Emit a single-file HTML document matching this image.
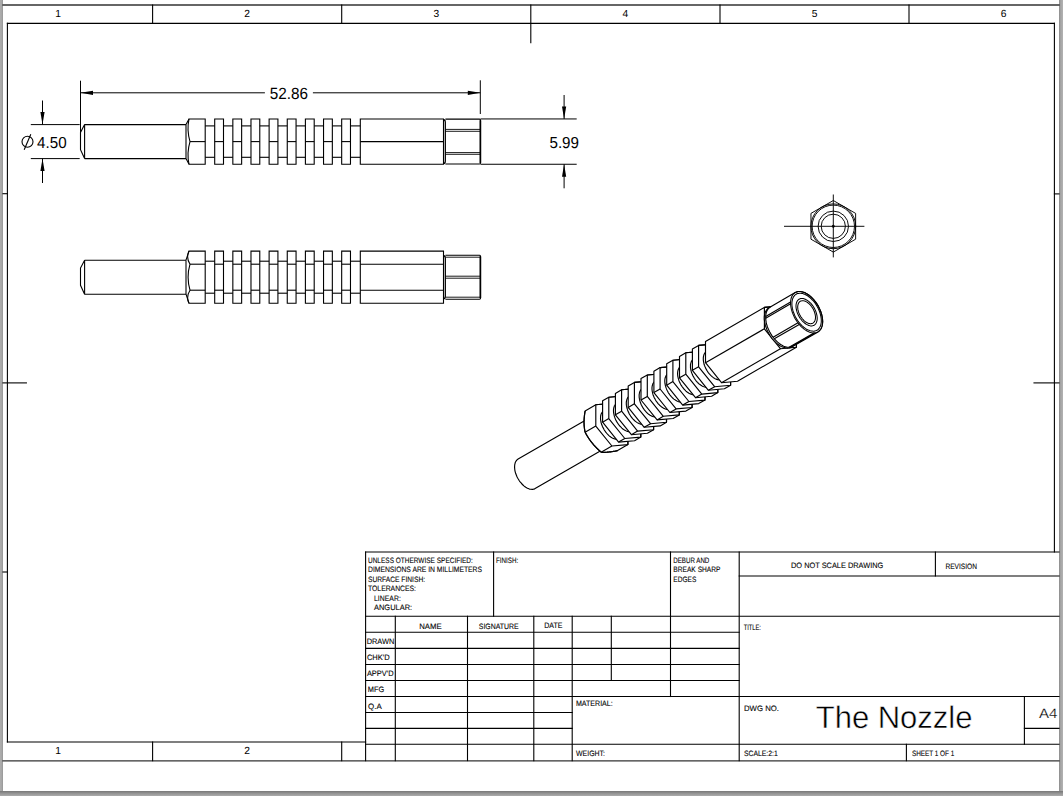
<!DOCTYPE html>
<html><head><meta charset="utf-8"><style>
html,body{margin:0;padding:0;background:#fff;width:1063px;height:796px;overflow:hidden}
svg{display:block}
</style></head><body>
<svg width="1063" height="796" viewBox="0 0 1063 796">
<rect x="0" y="0" width="1063" height="796" fill="#fff"/>
<defs>
<linearGradient id="gl" x1="0" y1="0" x2="1" y2="0"><stop offset="0" stop-color="#aeaeae"/><stop offset="0.6" stop-color="#a6a6a6"/><stop offset="1" stop-color="#959595"/></linearGradient>
<linearGradient id="gr" x1="0" y1="0" x2="1" y2="0"><stop offset="0" stop-color="#8a8a8a"/><stop offset="0.4" stop-color="#a4a4a4"/><stop offset="1" stop-color="#b2b2b2"/></linearGradient>
<linearGradient id="gb" x1="0" y1="0" x2="0" y2="1"><stop offset="0" stop-color="#777"/><stop offset="0.5" stop-color="#959595"/><stop offset="1" stop-color="#ababab"/></linearGradient>
</defs>
<rect x="0" y="0" width="3" height="796" fill="url(#gl)"/>
<rect x="1059" y="0" width="4" height="796" fill="url(#gr)"/>
<rect x="0" y="791" width="1063" height="5" fill="url(#gb)"/>
<g stroke="#000" stroke-width="1.1" fill="none" stroke-linecap="square">
<line x1="3" y1="5" x2="1059" y2="5" stroke-width="1.3" stroke="#333"/>
<line x1="3" y1="760.8" x2="1059" y2="760.8" stroke-width="1.3" stroke="#333"/>
<line x1="7.4" y1="23.4" x2="1054.4" y2="23.4"/>
<line x1="7.4" y1="23.4" x2="7.4" y2="742"/>
<line x1="1054.4" y1="23.4" x2="1054.4" y2="552"/>
<line x1="7.4" y1="742" x2="365.6" y2="742"/>
<line x1="152.6" y1="5" x2="152.6" y2="23.4"/>
<line x1="341.7" y1="5" x2="341.7" y2="23.4"/>
<line x1="720" y1="5" x2="720" y2="23.4"/>
<line x1="909" y1="5" x2="909" y2="23.4"/>
<line x1="530.8" y1="5" x2="530.8" y2="42.8"/>
<line x1="152.6" y1="742" x2="152.6" y2="760.6"/>
<line x1="341.7" y1="742" x2="341.7" y2="760.6"/>
<line x1="3" y1="193.7" x2="7.4" y2="193.7"/>
<line x1="3" y1="382.9" x2="26.4" y2="382.9"/>
<line x1="3" y1="572" x2="7.4" y2="572"/>
<line x1="1054.4" y1="193.9" x2="1059" y2="193.9"/>
<line x1="1034" y1="382.9" x2="1059" y2="382.9"/>
<line x1="365.6" y1="552" x2="1059" y2="552"/>
<line x1="739.2" y1="576" x2="1059" y2="576"/>
<line x1="365.6" y1="616.3" x2="1059" y2="616.3"/>
<line x1="365.6" y1="632.3" x2="739.2" y2="632.3"/>
<line x1="365.6" y1="648.4" x2="739.2" y2="648.4"/>
<line x1="365.6" y1="664.5" x2="739.2" y2="664.5"/>
<line x1="365.6" y1="680.5" x2="739.2" y2="680.5"/>
<line x1="365.6" y1="696.5" x2="1059" y2="696.5"/>
<line x1="365.6" y1="712.5" x2="572.2" y2="712.5"/>
<line x1="365.6" y1="728.4" x2="572.2" y2="728.4"/>
<line x1="1024.4" y1="728.4" x2="1059" y2="728.4"/>
<line x1="365.6" y1="744.3" x2="1059" y2="744.3"/>
<line x1="365.6" y1="552" x2="365.6" y2="760.6"/>
<line x1="493.6" y1="552" x2="493.6" y2="616.3"/>
<line x1="670.5" y1="552" x2="670.5" y2="696.5"/>
<line x1="739.2" y1="552" x2="739.2" y2="760.6"/>
<line x1="935.4" y1="552" x2="935.4" y2="576"/>
<line x1="395.3" y1="616.3" x2="395.3" y2="760.6"/>
<line x1="467.5" y1="616.3" x2="467.5" y2="760.6"/>
<line x1="533.8" y1="616.3" x2="533.8" y2="760.6"/>
<line x1="572.2" y1="616.3" x2="572.2" y2="760.6"/>
<line x1="611.3" y1="616.3" x2="611.3" y2="680.5"/>
<line x1="1024.4" y1="696.5" x2="1024.4" y2="744.3"/>
<line x1="906.4" y1="744.3" x2="906.4" y2="760.6"/>
</g>
<g stroke="#000" stroke-width="1.1" fill="none" stroke-linejoin="miter">
<line x1="84.6" y1="124.6" x2="186" y2="124.6"/>
<line x1="84.6" y1="158.6" x2="186" y2="158.6"/>
<line x1="84.6" y1="124.6" x2="84.6" y2="158.6"/>
<path d="M84.6,124.6 L80.5,132.5 L80.5,149.7 L84.6,158.6" fill="none"/>
<line x1="186" y1="124.6" x2="186" y2="158.6"/>
<path d="M186,124.6 L189,118.94999999999999 L205.2,118.94999999999999 L205.2,164.25 L189,164.25 L186,158.6" fill="none"/>
<path d="M189,118.94999999999999 Q186.6,130.27499999999998 190,141.6 Q186.6,152.925 189,164.25" fill="none"/>
<line x1="190" y1="141.6" x2="205.2" y2="141.6"/>
<line x1="205.2" y1="125.89999999999999" x2="214.7" y2="125.89999999999999"/>
<line x1="205.2" y1="157.29999999999998" x2="214.7" y2="157.29999999999998"/>
<path d="M214.7,118.94999999999999 H223.5 V164.25 H214.7Z" fill="none"/>
<line x1="214.7" y1="141.6" x2="223.5" y2="141.6"/>
<line x1="223.5" y1="125.89999999999999" x2="232.83999999999997" y2="125.89999999999999"/>
<line x1="223.5" y1="157.29999999999998" x2="232.83999999999997" y2="157.29999999999998"/>
<path d="M232.83999999999997,118.94999999999999 H241.64 V164.25 H232.83999999999997Z" fill="none"/>
<line x1="232.83999999999997" y1="141.6" x2="241.64" y2="141.6"/>
<line x1="241.64" y1="125.89999999999999" x2="250.98" y2="125.89999999999999"/>
<line x1="241.64" y1="157.29999999999998" x2="250.98" y2="157.29999999999998"/>
<path d="M250.98,118.94999999999999 H259.78 V164.25 H250.98Z" fill="none"/>
<line x1="250.98" y1="141.6" x2="259.78" y2="141.6"/>
<line x1="259.78" y1="125.89999999999999" x2="269.12" y2="125.89999999999999"/>
<line x1="259.78" y1="157.29999999999998" x2="269.12" y2="157.29999999999998"/>
<path d="M269.12,118.94999999999999 H277.92 V164.25 H269.12Z" fill="none"/>
<line x1="269.12" y1="141.6" x2="277.92" y2="141.6"/>
<line x1="277.92" y1="125.89999999999999" x2="287.26" y2="125.89999999999999"/>
<line x1="277.92" y1="157.29999999999998" x2="287.26" y2="157.29999999999998"/>
<path d="M287.26,118.94999999999999 H296.06 V164.25 H287.26Z" fill="none"/>
<line x1="287.26" y1="141.6" x2="296.06" y2="141.6"/>
<line x1="296.06" y1="125.89999999999999" x2="305.4" y2="125.89999999999999"/>
<line x1="296.06" y1="157.29999999999998" x2="305.4" y2="157.29999999999998"/>
<path d="M305.4,118.94999999999999 H314.2 V164.25 H305.4Z" fill="none"/>
<line x1="305.4" y1="141.6" x2="314.2" y2="141.6"/>
<line x1="314.2" y1="125.89999999999999" x2="323.53999999999996" y2="125.89999999999999"/>
<line x1="314.2" y1="157.29999999999998" x2="323.53999999999996" y2="157.29999999999998"/>
<path d="M323.53999999999996,118.94999999999999 H332.34 V164.25 H323.53999999999996Z" fill="none"/>
<line x1="323.53999999999996" y1="141.6" x2="332.34" y2="141.6"/>
<line x1="332.34" y1="125.89999999999999" x2="341.68" y2="125.89999999999999"/>
<line x1="332.34" y1="157.29999999999998" x2="341.68" y2="157.29999999999998"/>
<path d="M341.68,118.94999999999999 H350.48 V164.25 H341.68Z" fill="none"/>
<line x1="341.68" y1="141.6" x2="350.48" y2="141.6"/>
<line x1="350.48" y1="125.89999999999999" x2="360.3" y2="125.89999999999999"/>
<line x1="350.48" y1="157.29999999999998" x2="360.3" y2="157.29999999999998"/>
<path d="M360.3,118.94999999999999 H443.5 V164.25 H360.3Z" fill="none"/>
<line x1="360.3" y1="141.6" x2="443.5" y2="141.6"/>
<path d="M444.5,119.64999999999999 Q443.6,120.14999999999999 443.6,122.14999999999999 V161.04999999999998 Q443.6,163.04999999999998 444.5,163.54999999999998 Q445.4,163.04999999999998 445.4,161.04999999999998 V122.14999999999999 Q445.4,120.14999999999999 444.5,119.64999999999999Z" fill="none"/>
<path d="M445.4,119.14999999999999 H479.5 Q480.6,119.14999999999999 480.6,120.64999999999999 V162.54999999999998 Q480.6,164.04999999999998 479.5,164.04999999999998 H445.4" fill="none"/>
<line x1="480.3" y1="120.14999999999999" x2="480.3" y2="163.04999999999998" stroke-width="1.6"/>
<line x1="445.4" y1="129.4" x2="480.3" y2="129.4" stroke-width="0.9"/>
<line x1="445.4" y1="131.29999999999998" x2="480.3" y2="131.29999999999998" stroke-width="0.9"/>
<line x1="445.4" y1="152.6" x2="480.3" y2="152.6" stroke-width="0.9"/>
<line x1="445.4" y1="154.29999999999998" x2="480.3" y2="154.29999999999998" stroke-width="0.9"/>
<line x1="84.6" y1="260.2" x2="186" y2="260.2"/>
<line x1="84.6" y1="294.2" x2="186" y2="294.2"/>
<line x1="84.6" y1="260.2" x2="84.6" y2="294.2"/>
<path d="M84.6,260.2 L80.5,268.09999999999997 L80.5,285.3 L84.6,294.2" fill="none"/>
<line x1="186" y1="260.2" x2="186" y2="294.2"/>
<path d="M186,260.2 L189,251.1 L205.2,251.1 L205.2,303.3 L189,303.3 L186,294.2" fill="none"/>
<path d="M189,251.1 Q185.8,257.65 190,264.2 Q186.2,277.2 190,290.2 Q185.8,296.75 189,303.3" fill="none"/>
<line x1="190" y1="264.2" x2="205.2" y2="264.2"/>
<line x1="190" y1="290.2" x2="205.2" y2="290.2"/>
<line x1="205.2" y1="261.2" x2="214.7" y2="261.2"/>
<line x1="205.2" y1="293.2" x2="214.7" y2="293.2"/>
<path d="M214.7,251.1 H223.5 V303.3 H214.7Z" fill="none"/>
<line x1="214.7" y1="264.2" x2="223.5" y2="264.2"/>
<line x1="214.7" y1="290.2" x2="223.5" y2="290.2"/>
<line x1="223.5" y1="261.2" x2="232.83999999999997" y2="261.2"/>
<line x1="223.5" y1="293.2" x2="232.83999999999997" y2="293.2"/>
<path d="M232.83999999999997,251.1 H241.64 V303.3 H232.83999999999997Z" fill="none"/>
<line x1="232.83999999999997" y1="264.2" x2="241.64" y2="264.2"/>
<line x1="232.83999999999997" y1="290.2" x2="241.64" y2="290.2"/>
<line x1="241.64" y1="261.2" x2="250.98" y2="261.2"/>
<line x1="241.64" y1="293.2" x2="250.98" y2="293.2"/>
<path d="M250.98,251.1 H259.78 V303.3 H250.98Z" fill="none"/>
<line x1="250.98" y1="264.2" x2="259.78" y2="264.2"/>
<line x1="250.98" y1="290.2" x2="259.78" y2="290.2"/>
<line x1="259.78" y1="261.2" x2="269.12" y2="261.2"/>
<line x1="259.78" y1="293.2" x2="269.12" y2="293.2"/>
<path d="M269.12,251.1 H277.92 V303.3 H269.12Z" fill="none"/>
<line x1="269.12" y1="264.2" x2="277.92" y2="264.2"/>
<line x1="269.12" y1="290.2" x2="277.92" y2="290.2"/>
<line x1="277.92" y1="261.2" x2="287.26" y2="261.2"/>
<line x1="277.92" y1="293.2" x2="287.26" y2="293.2"/>
<path d="M287.26,251.1 H296.06 V303.3 H287.26Z" fill="none"/>
<line x1="287.26" y1="264.2" x2="296.06" y2="264.2"/>
<line x1="287.26" y1="290.2" x2="296.06" y2="290.2"/>
<line x1="296.06" y1="261.2" x2="305.4" y2="261.2"/>
<line x1="296.06" y1="293.2" x2="305.4" y2="293.2"/>
<path d="M305.4,251.1 H314.2 V303.3 H305.4Z" fill="none"/>
<line x1="305.4" y1="264.2" x2="314.2" y2="264.2"/>
<line x1="305.4" y1="290.2" x2="314.2" y2="290.2"/>
<line x1="314.2" y1="261.2" x2="323.53999999999996" y2="261.2"/>
<line x1="314.2" y1="293.2" x2="323.53999999999996" y2="293.2"/>
<path d="M323.53999999999996,251.1 H332.34 V303.3 H323.53999999999996Z" fill="none"/>
<line x1="323.53999999999996" y1="264.2" x2="332.34" y2="264.2"/>
<line x1="323.53999999999996" y1="290.2" x2="332.34" y2="290.2"/>
<line x1="332.34" y1="261.2" x2="341.68" y2="261.2"/>
<line x1="332.34" y1="293.2" x2="341.68" y2="293.2"/>
<path d="M341.68,251.1 H350.48 V303.3 H341.68Z" fill="none"/>
<line x1="341.68" y1="264.2" x2="350.48" y2="264.2"/>
<line x1="341.68" y1="290.2" x2="350.48" y2="290.2"/>
<line x1="350.48" y1="261.2" x2="360.3" y2="261.2"/>
<line x1="350.48" y1="293.2" x2="360.3" y2="293.2"/>
<path d="M360.3,251.1 H443.5 V303.3 H360.3Z" fill="none"/>
<line x1="360.3" y1="264.2" x2="443.5" y2="264.2"/>
<line x1="360.3" y1="290.2" x2="443.5" y2="290.2"/>
<path d="M444.5,255.7 Q443.6,256.2 443.6,258.2 V296.2 Q443.6,298.2 444.5,298.7 Q445.4,298.2 445.4,296.2 V258.2 Q445.4,256.2 444.5,255.7Z" fill="none"/>
<path d="M445.4,255.2 H479.5 Q480.6,255.2 480.6,256.7 V297.7 Q480.6,299.2 479.5,299.2 H445.4" fill="none"/>
<line x1="480.3" y1="256.2" x2="480.3" y2="298.2" stroke-width="1.6"/>
<line x1="445.4" y1="257.2" x2="480.3" y2="257.2" stroke-width="0.9"/>
<line x1="445.4" y1="276.2" x2="480.3" y2="276.2" stroke-width="0.9"/>
<line x1="445.4" y1="278.2" x2="480.3" y2="278.2" stroke-width="0.9"/>
<line x1="445.4" y1="297.2" x2="480.3" y2="297.2" stroke-width="0.9"/>
</g>
<g stroke="#000" stroke-width="1.15" stroke-linejoin="round">
<path d="M514.6,466.9 L514.6,466.0 L514.7,465.2 L514.8,464.4 L515.0,463.6 L515.2,462.8 L515.5,462.1 L515.8,461.5 L516.2,460.9 L516.6,460.4 L517.0,459.9 L517.5,459.5 L518.1,459.1 L589.8,417.7 L590.4,417.5 L591.0,417.2 L591.6,417.1 L592.3,417.0 L593.0,417.0 L593.7,417.0 L594.4,417.1 L595.2,417.3 L595.9,417.5 L596.7,417.8 L597.5,418.2 L598.3,418.6 L599.1,419.1 L599.9,419.6 L600.6,420.2 L601.4,420.9 L602.1,421.6 L602.9,422.3 L603.6,423.1 L604.3,423.9 L605.0,424.8 L605.6,425.7 L606.2,426.6 L606.8,427.6 L607.3,428.5 L607.8,429.5 L608.3,430.5 L608.7,431.5 L609.1,432.6 L609.4,433.6 L609.7,434.6 L609.9,435.6 L610.1,436.6 L610.2,437.5 L610.3,438.5 L610.3,439.4 L610.3,440.3 L610.2,441.2 L610.1,442.0 L609.9,442.8 L609.7,443.5 L609.4,444.2 L609.1,444.8 L608.7,445.4 L608.3,446.0 L607.8,446.4 L607.3,446.8 L606.8,447.2 L535.1,488.6 L534.5,488.9 L533.9,489.1 L533.3,489.3 L532.6,489.4 L531.9,489.4 L531.2,489.3 L530.4,489.2 L529.7,489.1 L528.9,488.8 L528.2,488.5 L527.4,488.2 L526.6,487.7 L525.8,487.3 L525.0,486.7 L524.2,486.1 L523.5,485.5 L522.7,484.8 L522.0,484.0 L521.3,483.2 L520.6,482.4 L519.9,481.6 L519.3,480.7 L518.7,479.7 L518.1,478.8 L517.5,477.8 L517.0,476.8 L516.6,475.8 L516.2,474.8 L515.8,473.8 L515.5,472.8 L515.2,471.8 L515.0,470.8 L514.8,469.8 L514.7,468.8 L514.6,467.8Z" fill="#fff"/>
<path d="M584.0,422.0 L584.0,421.9 L584.0,421.6 L584.0,421.1 L584.1,420.9 L584.1,420.6 L584.1,420.2 L584.1,420.1 L584.1,419.9 L584.1,419.7 L584.1,419.2 L584.1,418.9 L584.2,418.4 L584.2,418.2 L584.2,418.0 L584.2,417.6 L584.3,417.3 L584.3,417.1 L584.3,416.5 L584.4,416.2 L584.4,415.8 L584.4,415.6 L584.5,415.4 L584.5,415.0 L584.5,414.8 L584.6,414.6 L584.6,414.2 L584.6,414.0 L584.7,413.8 L584.7,413.4 L584.8,412.9 L584.8,412.7 L584.9,412.5 L584.9,412.3 L584.9,412.1 L585.0,411.6 L585.1,411.4 L585.1,410.9 L595.8,404.7 L611.9,403.3 L627.9,423.2 L627.9,444.6 L617.2,450.7 L617.0,450.8 L616.8,450.8 L616.4,450.9 L616.0,451.0 L615.4,451.1 L615.3,451.1 L614.9,451.2 L614.7,451.2 L614.4,451.2 L613.9,451.3 L613.6,451.4 L613.4,451.4 L613.1,451.5 L612.6,451.5 L612.5,451.5 L612.0,451.6 L611.6,451.7 L611.5,451.7 L611.2,451.7 L610.9,451.8 L610.8,451.8 L610.6,451.8 L610.2,451.9 L609.9,451.9 L609.7,451.9 L609.6,451.9 L609.0,452.0 L608.8,452.0 L608.5,452.0 L608.3,452.1 L608.2,452.1 L607.9,452.1 L607.6,452.1 L607.3,452.1 L607.1,452.2 L606.9,452.2 L606.8,452.2 L606.5,452.2 L606.4,452.2 L606.0,452.2 L605.8,452.2 L605.7,452.2 L605.5,452.3 L605.4,452.3 L605.2,452.3 L605.0,452.3 L604.8,452.3 L604.6,452.3 L604.4,452.3 L604.3,452.3 L603.8,452.3 L603.5,452.3 L603.4,452.3 L603.2,452.3 L602.8,452.3 L602.6,452.3 L602.2,452.2 L602.1,452.2 L602.0,452.2 L601.7,452.2 L601.6,452.2 L601.5,452.2 L601.3,452.2 L601.1,452.2 L600.7,451.8 L600.6,451.6 L600.2,451.3 L600.0,451.1 L599.6,450.8 L599.4,450.6 L599.2,450.5 L599.1,450.3 L598.9,450.1 L598.7,450.0 L598.4,449.7 L598.2,449.5 L597.9,449.2 L597.7,449.0 L597.5,448.9 L597.4,448.7 L597.2,448.5 L597.1,448.4 L596.8,448.1 L596.5,447.8 L596.3,447.6 L596.2,447.5 L596.0,447.3 L595.9,447.2 L595.7,447.0 L595.6,446.9 L595.3,446.6 L595.2,446.4 L595.0,446.3 L594.9,446.1 L594.7,446.0 L594.6,445.8 L594.3,445.5 L594.2,445.4 L594.1,445.2 L593.9,445.1 L593.8,444.9 L593.7,444.8 L593.4,444.5 L593.2,444.2 L593.0,444.0 L592.7,443.6 L592.4,443.3 L592.3,443.1 L592.2,443.0 L591.9,442.7 L591.8,442.5 L591.7,442.4 L591.4,442.1 L591.3,441.9 L591.2,441.8 L591.0,441.5 L590.7,441.2 L590.6,441.0 L590.4,440.7 L590.3,440.5 L590.2,440.4 L589.9,440.1 L589.7,439.7 L589.6,439.6 L589.4,439.2 L589.3,439.1 L589.1,438.9 L589.0,438.8 L588.9,438.6 L588.8,438.4 L588.7,438.2 L588.6,438.1 L588.5,437.9 L588.4,437.7 L588.2,437.6 L588.1,437.4 L587.9,437.0 L587.8,436.8 L587.6,436.5 L587.5,436.3 L587.3,436.1 L587.2,435.9 L587.1,435.7 L587.0,435.6 L586.9,435.4 L586.8,435.2 L586.7,435.0 L586.5,434.8 L586.4,434.6 L586.2,434.2 L586.1,434.0 L586.0,433.8 L585.8,433.6 L585.7,433.3 L585.5,432.9 L585.3,432.5 L585.1,432.2 L585.1,431.9 L585.0,431.7 L584.9,431.3 L584.9,431.1 L584.9,430.9 L584.8,430.8 L584.8,430.6 L584.8,430.4 L584.7,430.2 L584.7,430.1 L584.7,429.9 L584.6,429.7 L584.6,429.5 L584.6,429.2 L584.5,429.0 L584.5,428.8 L584.5,428.7 L584.5,428.5 L584.4,428.3 L584.4,428.2 L584.4,427.8 L584.4,427.7 L584.3,427.5 L584.3,427.0 L584.3,426.9 L584.3,426.7 L584.2,426.5 L584.2,426.2 L584.2,426.0 L584.2,425.9 L584.1,425.4 L584.1,425.1 L584.1,424.8 L584.1,424.6 L584.1,424.4 L584.1,424.3 L584.1,424.1 L584.1,424.0 L584.1,423.8 L584.1,423.6 L584.1,423.5 L584.0,423.3 L584.0,423.2 L584.0,423.0 L584.0,422.8 L584.0,422.5 L584.0,422.4Z" fill="#fff"/>
<path d="M595.8,426.1 L611.9,446.0 L627.9,444.6 L627.9,423.2 L611.9,403.3 L595.8,404.7Z" fill="none"/>
<path d="M585.1,410.9 L585.1,411.0 L585.1,411.1 L585.1,411.2 L585.1,411.4 L585.0,411.5 L585.0,411.6 L585.0,411.7 L585.0,411.8 L585.0,411.9 L584.9,412.1 L584.9,412.2 L584.9,412.3 L584.9,412.4 L584.9,412.5 L584.9,412.6 L584.8,412.7 L584.8,412.8 L584.8,412.9 L584.8,413.0 L584.8,413.2 L584.8,413.3 L584.7,413.4 L584.7,413.5 L584.7,413.6 L584.7,413.7 L584.7,413.8 L584.7,413.9 L584.6,414.0 L584.6,414.1 L584.6,414.2 L584.6,414.3 L584.6,414.4 L584.6,414.5 L584.6,414.6 L584.6,414.7 L584.5,414.8 L584.5,414.9 L584.5,415.0 L584.5,415.1 L584.5,415.2 L584.5,415.3 L584.5,415.4 L584.5,415.5 L584.4,415.6 L584.4,415.7 L584.4,415.8 L584.4,415.9 L584.4,416.0 L584.4,416.1 L584.4,416.2 L584.4,416.3 L584.4,416.4 L584.4,416.5 L584.3,416.5 L584.3,416.6 L584.3,416.7 L584.3,416.8 L584.3,416.9 L584.3,417.0 L584.3,417.1 L584.3,417.2 L584.3,417.3 L584.3,417.4 L584.3,417.5 L584.2,417.6 L584.2,417.6 L584.2,417.7 L584.2,417.8 L584.2,417.9 L584.2,418.0 L584.2,418.1 L584.2,418.2 L584.2,418.3 L584.2,418.4 L584.2,418.4 L584.2,418.5 L584.2,418.6 L584.2,418.7 L584.2,418.8 L584.1,418.9 L584.1,419.0 L584.1,419.1 L584.1,419.1 L584.1,419.2 L584.1,419.3 L584.1,419.4 L584.1,419.5 L584.1,419.6 L584.1,419.6 L584.1,419.7 L584.1,419.8 L584.1,419.9 L584.1,420.0 L584.1,420.1 L584.1,420.2 L584.1,420.2 L584.1,420.3 L584.1,420.4 L584.1,420.5 L584.1,420.6 L584.1,420.7 L584.1,420.7 L584.1,420.8 L584.1,420.9 L584.1,421.0 L584.1,421.1 L584.0,421.1 L584.0,421.2 L584.0,421.3 L584.0,421.4 L584.0,421.5 L584.0,421.6 L584.0,421.6 L584.0,421.7 L584.0,421.8 L584.0,421.9 L584.0,422.0 L584.0,422.0 L584.0,422.1 L584.0,422.2 L584.0,422.3 L584.0,422.4 L584.0,422.4 L584.0,422.5 L584.0,422.6 L584.0,422.7 L584.0,422.8 L584.0,422.8 L584.0,422.9 L584.0,423.0 L584.0,423.1 L584.0,423.2 L584.0,423.2 L584.1,423.3 L584.1,423.4 L584.1,423.5 L584.1,423.6 L584.1,423.6 L584.1,423.7 L584.1,423.8 L584.1,423.9 L584.1,424.0 L584.1,424.0 L584.1,424.1 L584.1,424.2 L584.1,424.3 L584.1,424.4 L584.1,424.4 L584.1,424.5 L584.1,424.6 L584.1,424.7 L584.1,424.8 L584.1,424.8 L584.1,424.9 L584.1,425.0 L584.1,425.1 L584.1,425.2 L584.1,425.2 L584.1,425.3 L584.1,425.4 L584.2,425.5 L584.2,425.6 L584.2,425.6 L584.2,425.7 L584.2,425.8 L584.2,425.9 L584.2,426.0 L584.2,426.0 L584.2,426.1 L584.2,426.2 L584.2,426.3 L584.2,426.4 L584.2,426.4 L584.2,426.5 L584.2,426.6 L584.3,426.7 L584.3,426.8 L584.3,426.9 L584.3,426.9 L584.3,427.0 L584.3,427.1 L584.3,427.2 L584.3,427.3 L584.3,427.3 L584.3,427.4 L584.3,427.5 L584.4,427.6 L584.4,427.7 L584.4,427.8 L584.4,427.8 L584.4,427.9 L584.4,428.0 L584.4,428.1 L584.4,428.2 L584.4,428.3 L584.4,428.3 L584.5,428.4 L584.5,428.5 L584.5,428.6 L584.5,428.7 L584.5,428.8 L584.5,428.8 L584.5,428.9 L584.5,429.0 L584.6,429.1 L584.6,429.2 L584.6,429.3 L584.6,429.4 L584.6,429.4 L584.6,429.5 L584.6,429.6 L584.6,429.7 L584.7,429.8 L584.7,429.9 L584.7,430.0 L584.7,430.0 L584.7,430.1 L584.7,430.2 L584.8,430.3 L584.8,430.4 L584.8,430.5 L584.8,430.6 L584.8,430.7 L584.8,430.8 L584.9,430.9 L584.9,430.9 L584.9,431.0 L584.9,431.1 L584.9,431.2 L584.9,431.3 L585.0,431.4 L585.0,431.5 L585.0,431.6 L585.0,431.7 L585.0,431.8 L585.1,431.9 L585.1,432.0 L585.1,432.1 L585.1,432.2 L585.1,432.2" fill="none"/>
<path d="M585.1,432.2 L585.2,432.4 L585.3,432.5 L585.3,432.6 L585.4,432.7 L585.4,432.8 L585.5,432.9 L585.6,433.0 L585.6,433.1 L585.7,433.2 L585.7,433.3 L585.8,433.4 L585.8,433.6 L585.9,433.7 L586.0,433.8 L586.0,433.9 L586.1,434.0 L586.1,434.1 L586.2,434.2 L586.3,434.3 L586.3,434.4 L586.4,434.5 L586.4,434.6 L586.5,434.7 L586.5,434.8 L586.6,434.9 L586.7,435.0 L586.7,435.1 L586.8,435.2 L586.8,435.3 L586.9,435.4 L586.9,435.5 L587.0,435.5 L587.1,435.6 L587.1,435.7 L587.2,435.8 L587.2,435.9 L587.3,436.0 L587.3,436.1 L587.4,436.2 L587.5,436.3 L587.5,436.4 L587.6,436.5 L587.6,436.6 L587.7,436.7 L587.7,436.8 L587.8,436.8 L587.8,436.9 L587.9,437.0 L588.0,437.1 L588.0,437.2 L588.1,437.3 L588.1,437.4 L588.2,437.5 L588.2,437.6 L588.3,437.6 L588.4,437.7 L588.4,437.8 L588.5,437.9 L588.5,438.0 L588.6,438.1 L588.6,438.2 L588.7,438.2 L588.7,438.3 L588.8,438.4 L588.9,438.5 L588.9,438.6 L589.0,438.7 L589.0,438.8 L589.1,438.8 L589.1,438.9 L589.2,439.0 L589.3,439.1 L589.3,439.2 L589.4,439.2 L589.4,439.3 L589.5,439.4 L589.5,439.5 L589.6,439.6 L589.7,439.7 L589.7,439.7 L589.8,439.8 L589.8,439.9 L589.9,440.0 L589.9,440.1 L590.0,440.1 L590.1,440.2 L590.1,440.3 L590.2,440.4 L590.2,440.5 L590.3,440.5 L590.3,440.6 L590.4,440.7 L590.5,440.8 L590.5,440.9 L590.6,440.9 L590.6,441.0 L590.7,441.1 L590.7,441.2 L590.8,441.2 L590.9,441.3 L590.9,441.4 L591.0,441.5 L591.0,441.5 L591.1,441.6 L591.2,441.7 L591.2,441.8 L591.3,441.9 L591.3,441.9 L591.4,442.0 L591.4,442.1 L591.5,442.2 L591.6,442.2 L591.6,442.3 L591.7,442.4 L591.7,442.5 L591.8,442.5 L591.9,442.6 L591.9,442.7 L592.0,442.8 L592.0,442.8 L592.1,442.9 L592.2,443.0 L592.2,443.1 L592.3,443.1 L592.3,443.2 L592.4,443.3 L592.5,443.4 L592.5,443.4 L592.6,443.5 L592.7,443.6 L592.7,443.7 L592.8,443.7 L592.8,443.8 L592.9,443.9 L593.0,444.0 L593.0,444.0 L593.1,444.1 L593.2,444.2 L593.2,444.3 L593.3,444.3 L593.3,444.4 L593.4,444.5 L593.5,444.6 L593.5,444.6 L593.6,444.7 L593.7,444.8 L593.7,444.9 L593.8,444.9 L593.9,445.0 L593.9,445.1 L594.0,445.2 L594.1,445.2 L594.1,445.3 L594.2,445.4 L594.3,445.5 L594.3,445.5 L594.4,445.6 L594.5,445.7 L594.5,445.7 L594.6,445.8 L594.7,445.9 L594.7,446.0 L594.8,446.0 L594.9,446.1 L594.9,446.2 L595.0,446.3 L595.1,446.3 L595.2,446.4 L595.2,446.5 L595.3,446.6 L595.4,446.6 L595.4,446.7 L595.5,446.8 L595.6,446.9 L595.6,446.9 L595.7,447.0 L595.8,447.1 L595.9,447.2 L595.9,447.2 L596.0,447.3 L596.1,447.4 L596.2,447.5 L596.2,447.5 L596.3,447.6 L596.4,447.7 L596.5,447.8 L596.5,447.9 L596.6,447.9 L596.7,448.0 L596.8,448.1 L596.8,448.2 L596.9,448.2 L597.0,448.3 L597.1,448.4 L597.2,448.5 L597.2,448.5 L597.3,448.6 L597.4,448.7 L597.5,448.8 L597.5,448.9 L597.6,448.9 L597.7,449.0 L597.8,449.1 L597.9,449.2 L598.0,449.3 L598.0,449.3 L598.1,449.4 L598.2,449.5 L598.3,449.6 L598.4,449.7 L598.5,449.7 L598.5,449.8 L598.6,449.9 L598.7,450.0 L598.8,450.1 L598.9,450.1 L599.0,450.2 L599.1,450.3 L599.2,450.4 L599.2,450.5 L599.3,450.5 L599.4,450.6 L599.5,450.7 L599.6,450.8 L599.7,450.9 L599.8,451.0 L599.9,451.0 L600.0,451.1 L600.1,451.2 L600.2,451.3 L600.3,451.4 L600.4,451.5 L600.5,451.6 L600.6,451.6 L600.7,451.7 L600.7,451.8 L600.8,451.9 L600.9,452.0 L601.0,452.1 L601.1,452.2" fill="none"/>
<path d="M601.1,452.2 L601.2,452.2 L601.3,452.2 L601.3,452.2 L601.4,452.2 L601.4,452.2 L601.5,452.2 L601.6,452.2 L601.6,452.2 L601.7,452.2 L601.7,452.2 L601.8,452.2 L601.9,452.2 L601.9,452.2 L602.0,452.2 L602.0,452.2 L602.1,452.2 L602.2,452.2 L602.2,452.2 L602.3,452.2 L602.3,452.2 L602.4,452.2 L602.4,452.2 L602.5,452.3 L602.6,452.3 L602.6,452.3 L602.7,452.3 L602.7,452.3 L602.8,452.3 L602.8,452.3 L602.9,452.3 L603.0,452.3 L603.0,452.3 L603.1,452.3 L603.1,452.3 L603.2,452.3 L603.2,452.3 L603.3,452.3 L603.4,452.3 L603.4,452.3 L603.5,452.3 L603.5,452.3 L603.6,452.3 L603.6,452.3 L603.7,452.3 L603.8,452.3 L603.8,452.3 L603.9,452.3 L603.9,452.3 L604.0,452.3 L604.0,452.3 L604.1,452.3 L604.1,452.3 L604.2,452.3 L604.3,452.3 L604.3,452.3 L604.4,452.3 L604.4,452.3 L604.5,452.3 L604.5,452.3 L604.6,452.3 L604.7,452.3 L604.7,452.3 L604.8,452.3 L604.8,452.3 L604.9,452.3 L604.9,452.3 L605.0,452.3 L605.0,452.3 L605.1,452.3 L605.2,452.3 L605.2,452.3 L605.3,452.3 L605.3,452.3 L605.4,452.3 L605.4,452.3 L605.5,452.3 L605.6,452.3 L605.6,452.2 L605.7,452.2 L605.7,452.2 L605.8,452.2 L605.8,452.2 L605.9,452.2 L606.0,452.2 L606.0,452.2 L606.1,452.2 L606.1,452.2 L606.2,452.2 L606.2,452.2 L606.3,452.2 L606.4,452.2 L606.4,452.2 L606.5,452.2 L606.5,452.2 L606.6,452.2 L606.6,452.2 L606.7,452.2 L606.8,452.2 L606.8,452.2 L606.9,452.2 L606.9,452.2 L607.0,452.2 L607.0,452.2 L607.1,452.2 L607.2,452.2 L607.2,452.2 L607.3,452.2 L607.3,452.1 L607.4,452.1 L607.5,452.1 L607.5,452.1 L607.6,452.1 L607.6,452.1 L607.7,452.1 L607.8,452.1 L607.8,452.1 L607.9,452.1 L607.9,452.1 L608.0,452.1 L608.1,452.1 L608.1,452.1 L608.2,452.1 L608.2,452.1 L608.3,452.1 L608.4,452.1 L608.4,452.1 L608.5,452.0 L608.5,452.0 L608.6,452.0 L608.7,452.0 L608.7,452.0 L608.8,452.0 L608.9,452.0 L608.9,452.0 L609.0,452.0 L609.0,452.0 L609.1,452.0 L609.2,452.0 L609.2,452.0 L609.3,452.0 L609.4,452.0 L609.4,452.0 L609.5,451.9 L609.6,451.9 L609.6,451.9 L609.7,451.9 L609.8,451.9 L609.8,451.9 L609.9,451.9 L609.9,451.9 L610.0,451.9 L610.1,451.9 L610.1,451.9 L610.2,451.9 L610.3,451.9 L610.3,451.8 L610.4,451.8 L610.5,451.8 L610.5,451.8 L610.6,451.8 L610.7,451.8 L610.8,451.8 L610.8,451.8 L610.9,451.8 L611.0,451.8 L611.0,451.8 L611.1,451.7 L611.2,451.7 L611.2,451.7 L611.3,451.7 L611.4,451.7 L611.4,451.7 L611.5,451.7 L611.6,451.7 L611.7,451.7 L611.7,451.7 L611.8,451.6 L611.9,451.6 L612.0,451.6 L612.0,451.6 L612.1,451.6 L612.2,451.6 L612.2,451.6 L612.3,451.6 L612.4,451.6 L612.5,451.5 L612.5,451.5 L612.6,451.5 L612.7,451.5 L612.8,451.5 L612.9,451.5 L612.9,451.5 L613.0,451.5 L613.1,451.5 L613.2,451.4 L613.2,451.4 L613.3,451.4 L613.4,451.4 L613.5,451.4 L613.6,451.4 L613.6,451.4 L613.7,451.3 L613.8,451.3 L613.9,451.3 L614.0,451.3 L614.1,451.3 L614.1,451.3 L614.2,451.3 L614.3,451.3 L614.4,451.2 L614.5,451.2 L614.6,451.2 L614.6,451.2 L614.7,451.2 L614.8,451.2 L614.9,451.2 L615.0,451.1 L615.1,451.1 L615.2,451.1 L615.3,451.1 L615.4,451.1 L615.4,451.1 L615.5,451.0 L615.6,451.0 L615.7,451.0 L615.8,451.0 L615.9,451.0 L616.0,451.0 L616.1,450.9 L616.2,450.9 L616.3,450.9 L616.4,450.9 L616.5,450.9 L616.6,450.9 L616.7,450.8 L616.8,450.8 L616.9,450.8 L617.0,450.8 L617.1,450.8 L617.2,450.7" fill="none"/>
<path d="M585.1,432.2 L595.8,426.1" fill="none"/>
<path d="M601.1,452.2 L611.9,446.0" fill="none"/>
<path d="M600.5,418.1 L600.6,417.3 L600.6,416.5 L600.8,415.7 L600.9,414.9 L601.1,414.2 L601.4,413.6 L601.7,413.0 L602.1,412.4 L602.5,411.9 L602.9,411.5 L603.4,411.1 L603.9,410.8 L610.6,406.9 L611.1,406.6 L611.7,406.4 L612.3,406.3 L612.9,406.2 L613.6,406.1 L614.2,406.2 L614.9,406.3 L615.7,406.4 L616.4,406.7 L617.1,406.9 L617.8,407.3 L618.6,407.7 L619.3,408.1 L620.1,408.7 L620.8,409.2 L621.5,409.8 L622.2,410.5 L622.9,411.2 L623.6,411.9 L624.2,412.7 L624.9,413.5 L625.5,414.4 L626.0,415.2 L626.6,416.1 L627.1,417.1 L627.6,418.0 L628.0,418.9 L628.4,419.9 L628.7,420.8 L629.0,421.8 L629.3,422.7 L629.5,423.7 L629.7,424.6 L629.8,425.5 L629.9,426.4 L629.9,427.3 L629.9,428.1 L629.8,428.9 L629.7,429.7 L629.5,430.4 L629.3,431.1 L629.0,431.8 L628.7,432.4 L628.4,432.9 L628.0,433.4 L627.6,433.9 L627.1,434.3 L626.6,434.6 L619.9,438.5 L619.3,438.8 L618.7,439.0 L618.1,439.1 L617.5,439.2 L616.9,439.2 L616.2,439.2 L615.5,439.1 L614.8,438.9 L614.1,438.7 L613.3,438.4 L612.6,438.1 L611.9,437.7 L611.1,437.2 L610.4,436.7 L609.7,436.2 L608.9,435.6 L608.2,434.9 L607.5,434.2 L606.9,433.5 L606.2,432.7 L605.6,431.9 L605.0,431.0 L604.4,430.1 L603.9,429.3 L603.4,428.3 L602.9,427.4 L602.5,426.5 L602.1,425.5 L601.7,424.6 L601.4,423.6 L601.1,422.6 L600.9,421.7 L600.8,420.8 L600.6,419.9 L600.6,419.0Z" fill="#fff"/>
<path d="M602.6,400.8 L608.8,397.2 L624.8,395.8 L640.8,415.7 L640.8,437.1 L634.6,440.7 L618.6,442.1 L602.6,422.2Z" fill="#fff"/>
<path d="M608.8,418.6 L624.8,438.5 L640.8,437.1 L640.8,415.7 L624.8,395.8 L608.8,397.2Z" fill="none"/>
<path d="M602.6,422.2 L608.8,418.6" fill="none"/>
<path d="M618.6,442.1 L624.8,438.5" fill="none"/>
<path d="M613.5,410.6 L613.5,409.8 L613.6,409.0 L613.7,408.2 L613.9,407.5 L614.1,406.8 L614.3,406.1 L614.7,405.5 L615.0,405.0 L615.4,404.5 L615.8,404.0 L616.3,403.6 L616.8,403.3 L623.4,399.5 L623.9,399.2 L624.5,399.0 L625.1,398.9 L625.8,398.8 L626.4,398.7 L627.1,398.8 L627.8,398.9 L628.5,399.0 L629.2,399.3 L629.9,399.5 L630.7,399.9 L631.4,400.3 L632.1,400.7 L632.9,401.2 L633.6,401.8 L634.3,402.4 L635.0,403.1 L635.7,403.8 L636.4,404.5 L637.1,405.3 L637.7,406.1 L638.3,407.0 L638.9,407.8 L639.4,408.7 L639.9,409.6 L640.4,410.6 L640.8,411.5 L641.2,412.5 L641.6,413.4 L641.9,414.4 L642.1,415.3 L642.3,416.3 L642.5,417.2 L642.6,418.1 L642.7,419.0 L642.7,419.9 L642.7,420.7 L642.6,421.5 L642.5,422.3 L642.3,423.0 L642.1,423.7 L641.9,424.4 L641.6,425.0 L641.2,425.5 L640.8,426.0 L640.4,426.5 L639.9,426.9 L639.4,427.2 L632.8,431.0 L632.3,431.3 L631.7,431.5 L631.1,431.7 L630.5,431.7 L629.8,431.8 L629.1,431.7 L628.4,431.6 L627.7,431.5 L627.0,431.2 L626.3,431.0 L625.5,430.6 L624.8,430.2 L624.1,429.8 L623.3,429.3 L622.6,428.7 L621.9,428.1 L621.2,427.4 L620.5,426.7 L619.8,426.0 L619.1,425.2 L618.5,424.4 L617.9,423.5 L617.3,422.7 L616.8,421.8 L616.3,420.9 L615.8,419.9 L615.4,419.0 L615.0,418.0 L614.7,417.1 L614.3,416.1 L614.1,415.2 L613.9,414.2 L613.7,413.3 L613.6,412.4 L613.5,411.5Z" fill="#fff"/>
<path d="M615.4,393.4 L621.6,389.8 L637.6,388.4 L653.6,408.3 L653.6,429.7 L647.4,433.3 L631.4,434.7 L615.4,414.8Z" fill="#fff"/>
<path d="M621.6,411.2 L637.6,431.1 L653.6,429.7 L653.6,408.3 L637.6,388.4 L621.6,389.8Z" fill="none"/>
<path d="M615.4,414.8 L621.6,411.2" fill="none"/>
<path d="M631.4,434.7 L637.6,431.1" fill="none"/>
<path d="M626.3,403.2 L626.3,402.4 L626.4,401.6 L626.5,400.8 L626.7,400.1 L626.9,399.4 L627.2,398.7 L627.5,398.1 L627.8,397.6 L628.2,397.1 L628.7,396.6 L629.1,396.2 L629.6,395.9 L636.2,392.1 L636.8,391.8 L637.3,391.6 L637.9,391.5 L638.6,391.4 L639.2,391.3 L639.9,391.4 L640.6,391.5 L641.3,391.6 L642.0,391.9 L642.8,392.1 L643.5,392.5 L644.2,392.9 L645.0,393.3 L645.7,393.8 L646.4,394.4 L647.2,395.0 L647.9,395.7 L648.6,396.4 L649.2,397.1 L649.9,397.9 L650.5,398.7 L651.1,399.6 L651.7,400.4 L652.2,401.3 L652.7,402.2 L653.2,403.2 L653.6,404.1 L654.0,405.1 L654.4,406.0 L654.7,407.0 L654.9,407.9 L655.2,408.9 L655.3,409.8 L655.5,410.7 L655.5,411.6 L655.5,412.5 L655.5,413.3 L655.5,414.1 L655.3,414.9 L655.2,415.6 L654.9,416.3 L654.7,417.0 L654.4,417.6 L654.0,418.1 L653.6,418.6 L653.2,419.1 L652.7,419.5 L652.2,419.8 L645.6,423.6 L645.1,423.9 L644.5,424.1 L643.9,424.2 L643.3,424.3 L642.6,424.4 L642.0,424.3 L641.3,424.2 L640.6,424.1 L639.8,423.8 L639.1,423.6 L638.4,423.2 L637.6,422.8 L636.9,422.4 L636.2,421.9 L635.4,421.3 L634.7,420.7 L634.0,420.0 L633.3,419.3 L632.6,418.6 L632.0,417.8 L631.3,417.0 L630.7,416.1 L630.2,415.3 L629.6,414.4 L629.1,413.5 L628.7,412.5 L628.2,411.6 L627.8,410.6 L627.5,409.7 L627.2,408.7 L626.9,407.8 L626.7,406.8 L626.5,405.9 L626.4,405.0 L626.3,404.1Z" fill="#fff"/>
<path d="M628.2,386.0 L634.4,382.4 L650.5,381.0 L666.5,400.9 L666.5,422.3 L660.2,425.9 L644.2,427.3 L628.2,407.4Z" fill="#fff"/>
<path d="M634.4,403.8 L650.5,423.7 L666.5,422.3 L666.5,400.9 L650.5,381.0 L634.4,382.4Z" fill="none"/>
<path d="M628.2,407.4 L634.4,403.8" fill="none"/>
<path d="M644.2,427.3 L650.5,423.7" fill="none"/>
<path d="M639.1,395.8 L639.2,395.0 L639.2,394.2 L639.4,393.4 L639.5,392.7 L639.7,392.0 L640.0,391.3 L640.3,390.7 L640.7,390.2 L641.0,389.7 L641.5,389.2 L642.0,388.8 L642.5,388.5 L649.1,384.7 L649.6,384.4 L650.2,384.2 L650.8,384.0 L651.4,384.0 L652.1,383.9 L652.7,384.0 L653.4,384.1 L654.1,384.2 L654.9,384.4 L655.6,384.7 L656.3,385.1 L657.1,385.5 L657.8,385.9 L658.5,386.4 L659.3,387.0 L660.0,387.6 L660.7,388.3 L661.4,389.0 L662.1,389.7 L662.7,390.5 L663.3,391.3 L663.9,392.1 L664.5,393.0 L665.1,393.9 L665.6,394.8 L666.0,395.8 L666.5,396.7 L666.9,397.7 L667.2,398.6 L667.5,399.6 L667.8,400.5 L668.0,401.5 L668.2,402.4 L668.3,403.3 L668.4,404.2 L668.4,405.1 L668.4,405.9 L668.3,406.7 L668.2,407.5 L668.0,408.2 L667.8,408.9 L667.5,409.6 L667.2,410.2 L666.9,410.7 L666.5,411.2 L666.0,411.7 L665.6,412.1 L665.1,412.4 L658.5,416.2 L657.9,416.5 L657.3,416.7 L656.7,416.8 L656.1,416.9 L655.5,417.0 L654.8,416.9 L654.1,416.8 L653.4,416.7 L652.7,416.4 L651.9,416.2 L651.2,415.8 L650.5,415.4 L649.7,415.0 L649.0,414.4 L648.2,413.9 L647.5,413.3 L646.8,412.6 L646.1,411.9 L645.5,411.2 L644.8,410.4 L644.2,409.6 L643.6,408.7 L643.0,407.9 L642.5,407.0 L642.0,406.1 L641.5,405.1 L641.0,404.2 L640.7,403.2 L640.3,402.3 L640.0,401.3 L639.7,400.4 L639.5,399.4 L639.4,398.5 L639.2,397.6 L639.2,396.7Z" fill="#fff"/>
<path d="M641.0,378.6 L647.3,375.0 L663.3,373.6 L679.3,393.5 L679.3,414.9 L673.1,418.5 L657.1,419.9 L641.0,400.0Z" fill="#fff"/>
<path d="M647.3,396.4 L663.3,416.3 L679.3,414.9 L679.3,393.5 L663.3,373.6 L647.3,375.0Z" fill="none"/>
<path d="M641.0,400.0 L647.3,396.4" fill="none"/>
<path d="M657.1,419.9 L663.3,416.3" fill="none"/>
<path d="M652.0,388.4 L652.0,387.6 L652.1,386.8 L652.2,386.0 L652.4,385.3 L652.6,384.6 L652.8,383.9 L653.1,383.3 L653.5,382.8 L653.9,382.3 L654.3,381.8 L654.8,381.4 L655.3,381.1 L661.9,377.3 L662.4,377.0 L663.0,376.8 L663.6,376.6 L664.2,376.6 L664.9,376.5 L665.6,376.6 L666.3,376.7 L667.0,376.8 L667.7,377.0 L668.4,377.3 L669.1,377.7 L669.9,378.1 L670.6,378.5 L671.4,379.0 L672.1,379.6 L672.8,380.2 L673.5,380.9 L674.2,381.6 L674.9,382.3 L675.5,383.1 L676.2,383.9 L676.8,384.7 L677.3,385.6 L677.9,386.5 L678.4,387.4 L678.9,388.4 L679.3,389.3 L679.7,390.3 L680.0,391.2 L680.3,392.2 L680.6,393.1 L680.8,394.1 L681.0,395.0 L681.1,395.9 L681.2,396.8 L681.2,397.7 L681.2,398.5 L681.1,399.3 L681.0,400.1 L680.8,400.8 L680.6,401.5 L680.3,402.2 L680.0,402.8 L679.7,403.3 L679.3,403.8 L678.9,404.3 L678.4,404.7 L677.9,405.0 L671.3,408.8 L670.7,409.1 L670.2,409.3 L669.6,409.4 L668.9,409.5 L668.3,409.6 L667.6,409.5 L666.9,409.4 L666.2,409.3 L665.5,409.0 L664.8,408.7 L664.0,408.4 L663.3,408.0 L662.5,407.6 L661.8,407.0 L661.1,406.5 L660.4,405.9 L659.6,405.2 L659.0,404.5 L658.3,403.8 L657.6,403.0 L657.0,402.2 L656.4,401.3 L655.8,400.5 L655.3,399.6 L654.8,398.6 L654.3,397.7 L653.9,396.8 L653.5,395.8 L653.1,394.9 L652.8,393.9 L652.6,393.0 L652.4,392.0 L652.2,391.1 L652.1,390.2 L652.0,389.3Z" fill="#fff"/>
<path d="M653.9,371.2 L660.1,367.6 L676.1,366.2 L692.1,386.1 L692.1,407.5 L685.9,411.1 L669.9,412.5 L653.9,392.6Z" fill="#fff"/>
<path d="M660.1,389.0 L676.1,408.9 L692.1,407.5 L692.1,386.1 L676.1,366.2 L660.1,367.6Z" fill="none"/>
<path d="M653.9,392.6 L660.1,389.0" fill="none"/>
<path d="M669.9,412.5 L676.1,408.9" fill="none"/>
<path d="M664.8,381.0 L664.8,380.2 L664.9,379.4 L665.0,378.6 L665.2,377.8 L665.4,377.2 L665.7,376.5 L666.0,375.9 L666.3,375.4 L666.7,374.8 L667.1,374.4 L667.6,374.0 L668.1,373.7 L674.7,369.9 L675.3,369.6 L675.8,369.4 L676.4,369.2 L677.1,369.1 L677.7,369.1 L678.4,369.2 L679.1,369.3 L679.8,369.4 L680.5,369.6 L681.2,369.9 L682.0,370.3 L682.7,370.7 L683.5,371.1 L684.2,371.6 L684.9,372.2 L685.6,372.8 L686.4,373.5 L687.0,374.2 L687.7,374.9 L688.4,375.7 L689.0,376.5 L689.6,377.3 L690.2,378.2 L690.7,379.1 L691.2,380.0 L691.7,381.0 L692.1,381.9 L692.5,382.9 L692.9,383.8 L693.2,384.8 L693.4,385.7 L693.6,386.7 L693.8,387.6 L693.9,388.5 L694.0,389.4 L694.0,390.3 L694.0,391.1 L693.9,391.9 L693.8,392.7 L693.6,393.4 L693.4,394.1 L693.2,394.8 L692.9,395.4 L692.5,395.9 L692.1,396.4 L691.7,396.9 L691.2,397.2 L690.7,397.6 L684.1,401.4 L683.6,401.7 L683.0,401.9 L682.4,402.0 L681.8,402.1 L681.1,402.1 L680.4,402.1 L679.7,402.0 L679.0,401.8 L678.3,401.6 L677.6,401.3 L676.9,401.0 L676.1,400.6 L675.4,400.1 L674.6,399.6 L673.9,399.1 L673.2,398.5 L672.5,397.8 L671.8,397.1 L671.1,396.4 L670.5,395.6 L669.8,394.8 L669.2,393.9 L668.6,393.1 L668.1,392.2 L667.6,391.2 L667.1,390.3 L666.7,389.4 L666.3,388.4 L666.0,387.5 L665.7,386.5 L665.4,385.6 L665.2,384.6 L665.0,383.7 L664.9,382.8 L664.8,381.9Z" fill="#fff"/>
<path d="M666.7,363.8 L672.9,360.2 L688.9,358.8 L705.0,378.7 L705.0,400.1 L698.7,403.6 L682.7,405.1 L666.7,385.2Z" fill="#fff"/>
<path d="M672.9,381.6 L688.9,401.5 L705.0,400.1 L705.0,378.7 L688.9,358.8 L672.9,360.2Z" fill="none"/>
<path d="M666.7,385.2 L672.9,381.6" fill="none"/>
<path d="M682.7,405.1 L688.9,401.5" fill="none"/>
<path d="M677.6,373.6 L677.6,372.8 L677.7,372.0 L677.8,371.2 L678.0,370.4 L678.2,369.7 L678.5,369.1 L678.8,368.5 L679.1,367.9 L679.5,367.4 L680.0,367.0 L680.4,366.6 L680.9,366.3 L687.5,362.5 L688.1,362.2 L688.7,362.0 L689.3,361.8 L689.9,361.7 L690.5,361.7 L691.2,361.8 L691.9,361.8 L692.6,362.0 L693.3,362.2 L694.1,362.5 L694.8,362.9 L695.5,363.3 L696.3,363.7 L697.0,364.2 L697.7,364.8 L698.5,365.4 L699.2,366.0 L699.9,366.8 L700.5,367.5 L701.2,368.3 L701.8,369.1 L702.4,369.9 L703.0,370.8 L703.5,371.7 L704.0,372.6 L704.5,373.5 L704.9,374.5 L705.3,375.4 L705.7,376.4 L706.0,377.4 L706.3,378.3 L706.5,379.2 L706.6,380.2 L706.8,381.1 L706.8,382.0 L706.9,382.9 L706.8,383.7 L706.8,384.5 L706.6,385.3 L706.5,386.0 L706.3,386.7 L706.0,387.4 L705.7,388.0 L705.3,388.5 L704.9,389.0 L704.5,389.5 L704.0,389.8 L703.5,390.2 L696.9,394.0 L696.4,394.3 L695.8,394.5 L695.2,394.6 L694.6,394.7 L693.9,394.7 L693.3,394.7 L692.6,394.6 L691.9,394.4 L691.1,394.2 L690.4,393.9 L689.7,393.6 L688.9,393.2 L688.2,392.7 L687.5,392.2 L686.7,391.7 L686.0,391.1 L685.3,390.4 L684.6,389.7 L683.9,389.0 L683.3,388.2 L682.7,387.4 L682.0,386.5 L681.5,385.6 L680.9,384.8 L680.4,383.8 L680.0,382.9 L679.5,382.0 L679.1,381.0 L678.8,380.1 L678.5,379.1 L678.2,378.1 L678.0,377.2 L677.8,376.3 L677.7,375.4 L677.6,374.5Z" fill="#fff"/>
<path d="M679.5,356.4 L685.8,352.8 L701.8,351.4 L717.8,371.3 L717.8,392.6 L711.6,396.2 L695.5,397.7 L679.5,377.8Z" fill="#fff"/>
<path d="M685.8,374.2 L701.8,394.1 L717.8,392.6 L717.8,371.3 L701.8,351.4 L685.8,352.8Z" fill="none"/>
<path d="M679.5,377.8 L685.8,374.2" fill="none"/>
<path d="M695.5,397.7 L701.8,394.1" fill="none"/>
<path d="M690.5,366.2 L690.5,365.4 L690.5,364.5 L690.7,363.8 L690.8,363.0 L691.1,362.3 L691.3,361.7 L691.6,361.1 L692.0,360.5 L692.4,360.0 L692.8,359.6 L693.3,359.2 L693.8,358.9 L700.4,355.1 L700.9,354.8 L701.5,354.6 L702.1,354.4 L702.7,354.3 L703.4,354.3 L704.0,354.3 L704.7,354.4 L705.4,354.6 L706.2,354.8 L706.9,355.1 L707.6,355.5 L708.4,355.9 L709.1,356.3 L709.8,356.8 L710.6,357.4 L711.3,358.0 L712.0,358.6 L712.7,359.3 L713.4,360.1 L714.0,360.9 L714.7,361.7 L715.3,362.5 L715.8,363.4 L716.4,364.3 L716.9,365.2 L717.3,366.1 L717.8,367.1 L718.2,368.0 L718.5,369.0 L718.8,369.9 L719.1,370.9 L719.3,371.8 L719.5,372.8 L719.6,373.7 L719.7,374.6 L719.7,375.4 L719.7,376.3 L719.6,377.1 L719.5,377.9 L719.3,378.6 L719.1,379.3 L718.8,379.9 L718.5,380.6 L718.2,381.1 L717.8,381.6 L717.3,382.0 L716.9,382.4 L716.4,382.8 L709.8,386.6 L709.2,386.9 L708.7,387.1 L708.0,387.2 L707.4,387.3 L706.8,387.3 L706.1,387.3 L705.4,387.2 L704.7,387.0 L704.0,386.8 L703.2,386.5 L702.5,386.2 L701.8,385.8 L701.0,385.3 L700.3,384.8 L699.6,384.3 L698.8,383.7 L698.1,383.0 L697.4,382.3 L696.8,381.6 L696.1,380.8 L695.5,380.0 L694.9,379.1 L694.3,378.2 L693.8,377.3 L693.3,376.4 L692.8,375.5 L692.4,374.6 L692.0,373.6 L691.6,372.6 L691.3,371.7 L691.1,370.7 L690.8,369.8 L690.7,368.9 L690.5,368.0 L690.5,367.1Z" fill="#fff"/>
<path d="M692.4,349.0 L698.6,345.4 L714.6,344.0 L730.6,363.9 L730.6,385.2 L724.4,388.8 L708.4,390.3 L692.4,370.3Z" fill="#fff"/>
<path d="M698.6,366.8 L714.6,386.7 L730.6,385.2 L730.6,363.9 L714.6,344.0 L698.6,345.4Z" fill="none"/>
<path d="M692.4,370.3 L698.6,366.8" fill="none"/>
<path d="M708.4,390.3 L714.6,386.7" fill="none"/>
<path d="M703.3,358.8 L703.3,357.9 L703.4,357.1 L703.5,356.4 L703.7,355.6 L703.9,354.9 L704.1,354.3 L704.4,353.7 L704.8,353.1 L705.2,352.6 L705.6,352.2 L706.1,351.8 L706.6,351.5 L713.5,347.5 L714.1,347.2 L714.6,347.0 L715.2,346.8 L715.9,346.7 L716.5,346.7 L717.2,346.7 L717.9,346.8 L718.6,347.0 L719.3,347.2 L720.1,347.5 L720.8,347.8 L721.5,348.2 L722.3,348.7 L723.0,349.2 L723.7,349.8 L724.5,350.4 L725.2,351.0 L725.9,351.7 L726.5,352.5 L727.2,353.3 L727.8,354.1 L728.4,354.9 L729.0,355.8 L729.5,356.7 L730.0,357.6 L730.5,358.5 L730.9,359.5 L731.3,360.4 L731.7,361.4 L732.0,362.3 L732.2,363.3 L732.5,364.2 L732.6,365.2 L732.8,366.1 L732.8,367.0 L732.8,367.8 L732.8,368.7 L732.8,369.5 L732.6,370.3 L732.5,371.0 L732.2,371.7 L732.0,372.3 L731.7,372.9 L731.3,373.5 L730.9,374.0 L730.5,374.4 L730.0,374.8 L729.5,375.2 L722.6,379.2 L722.1,379.4 L721.5,379.7 L720.9,379.8 L720.2,379.9 L719.6,379.9 L718.9,379.9 L718.2,379.8 L717.5,379.6 L716.8,379.4 L716.1,379.1 L715.3,378.8 L714.6,378.4 L713.9,377.9 L713.1,377.4 L712.4,376.9 L711.7,376.2 L711.0,375.6 L710.3,374.9 L709.6,374.1 L708.9,373.4 L708.3,372.6 L707.7,371.7 L707.1,370.8 L706.6,369.9 L706.1,369.0 L705.6,368.1 L705.2,367.1 L704.8,366.2 L704.4,365.2 L704.1,364.3 L703.9,363.3 L703.7,362.4 L703.5,361.5 L703.4,360.6 L703.3,359.7Z" fill="#fff"/>
<path d="M705.5,341.4 L764.4,307.4 L780.4,306.0 L796.4,325.9 L796.4,347.3 L737.5,381.2 L721.5,382.7 L705.5,362.7Z" fill="#fff"/>
<path d="M764.4,328.8 L780.4,348.7 L796.4,347.3 L796.4,325.9 L780.4,306.0 L764.4,307.4Z" fill="none"/>
<path d="M705.5,362.7 L764.4,328.8" fill="none"/>
<path d="M721.5,382.7 L780.4,348.7" fill="none"/>
<path d="M764.3,318.1 L764.3,316.9 L764.5,315.7 L764.6,314.6 L764.9,313.6 L765.2,312.6 L765.5,311.7 L766.0,310.8 L766.5,310.1 L767.0,309.3 L767.6,308.7 L768.3,308.2 L769.0,307.7 L795.2,292.5 L796.0,292.2 L796.8,291.9 L797.7,291.6 L798.6,291.5 L799.5,291.5 L800.5,291.5 L801.4,291.7 L802.4,291.9 L803.5,292.2 L804.5,292.6 L805.5,293.1 L806.6,293.7 L807.6,294.3 L808.7,295.0 L809.7,295.8 L810.8,296.7 L811.8,297.6 L812.7,298.6 L813.7,299.7 L814.6,300.8 L815.5,301.9 L816.4,303.1 L817.2,304.4 L818.0,305.6 L818.7,306.9 L819.3,308.3 L819.9,309.6 L820.5,311.0 L821.0,312.3 L821.4,313.7 L821.8,315.0 L822.1,316.4 L822.3,317.7 L822.5,319.0 L822.6,320.2 L822.7,321.5 L822.6,322.7 L822.5,323.8 L822.3,324.9 L822.1,325.9 L821.8,326.9 L821.4,327.9 L821.0,328.7 L820.5,329.5 L819.9,330.2 L819.3,330.8 L818.7,331.4 L818.0,331.9 L791.7,347.0 L791.0,347.4 L790.1,347.7 L789.3,347.9 L788.4,348.0 L787.5,348.1 L786.5,348.0 L785.5,347.9 L784.5,347.6 L783.5,347.3 L782.5,346.9 L781.4,346.4 L780.4,345.9 L779.3,345.2 L778.3,344.5 L777.2,343.7 L776.2,342.9 L775.2,341.9 L774.2,340.9 L773.3,339.9 L772.3,338.8 L771.4,337.6 L770.6,336.4 L769.8,335.2 L769.0,333.9 L768.3,332.6 L767.6,331.3 L767.0,329.9 L766.5,328.6 L766.0,327.2 L765.5,325.9 L765.2,324.5 L764.9,323.2 L764.6,321.9 L764.5,320.6 L764.3,319.3Z" fill="#fff"/>
<path d="M770.4,306.9 L769.6,307.4 L769.0,307.9 L768.4,308.6 L767.8,309.3 L767.3,310.1 L766.9,310.9 L766.5,311.8 L766.2,312.8 L766.0,313.9 L765.8,315.0 L765.7,316.1 L765.7,317.3 L765.7,318.5 L765.8,319.8 L766.0,321.1 L766.2,322.4 L766.5,323.8 L766.9,325.1 L767.3,326.5 L767.8,327.8 L768.4,329.2 L769.0,330.5 L769.6,331.8 L770.4,333.1 L771.1,334.4 L771.9,335.6 L772.8,336.8 L773.7,338.0 L774.6,339.1 L775.6,340.1 L776.6,341.1 L777.6,342.1 L778.6,342.9 L779.6,343.7 L780.7,344.5 L781.7,345.1 L782.8,345.7 L783.8,346.2 L784.8,346.6 L785.9,346.9 L786.9,347.1 L787.9,347.2 L788.8,347.3 L789.7,347.3 L790.6,347.1 L791.5,346.9 L792.3,346.6 L793.1,346.2" fill="none"/>
<path d="M765.7,316.5 L790.6,302.1" fill="none"/>
<path d="M765.7,318.2 L790.6,303.8" fill="none"/>
<path d="M773.1,337.2 L798.0,322.8" fill="none"/>
<path d="M774.3,338.8 L799.2,324.4" fill="none"/>
<path d="M789.1,347.3 L814.0,332.9" fill="none"/>
<path d="M790.4,347.2 L815.2,332.8" fill="none"/>
<path d="M790.5,302.9 L790.6,304.2 L790.7,305.4 L790.9,306.7 L791.1,308.0 L791.4,309.4 L791.8,310.7 L792.2,312.1 L792.7,313.4 L793.3,314.8 L793.9,316.1 L794.5,317.5 L795.2,318.8 L796.0,320.0 L796.8,321.3 L797.7,322.5 L798.6,323.6 L799.5,324.7 L800.5,325.8 L801.4,326.8 L802.4,327.7 L803.5,328.6 L804.5,329.4 L805.6,330.1 L806.6,330.7 L807.6,331.3 L808.7,331.8 L809.7,332.2 L810.8,332.5 L811.8,332.7 L812.7,332.9 L813.7,332.9 L814.6,332.9 L815.5,332.8 L816.4,332.5 L817.2,332.2 L818.0,331.9 L818.7,331.4 L819.3,330.8 L819.9,330.2 L820.5,329.5 L821.0,328.7 L821.4,327.9 L821.8,326.9 L822.1,325.9 L822.3,324.9 L822.5,323.8 L822.6,322.7 L822.7,321.5 L822.6,320.2 L822.5,319.0 L822.3,317.7 L822.1,316.4 L821.8,315.0 L821.4,313.7 L821.0,312.3 L820.5,311.0 L819.9,309.6 L819.3,308.3 L818.7,306.9 L818.0,305.6 L817.2,304.4 L816.4,303.1 L815.5,301.9 L814.6,300.8 L813.7,299.7 L812.7,298.6 L811.8,297.6 L810.8,296.7 L809.7,295.8 L808.7,295.0 L807.6,294.3 L806.6,293.7 L805.6,293.1 L804.5,292.6 L803.5,292.2 L802.4,291.9 L801.4,291.7 L800.5,291.5 L799.5,291.5 L798.6,291.5 L797.7,291.6 L796.8,291.9 L796.0,292.2 L795.2,292.5 L794.5,293.0 L793.9,293.6 L793.3,294.2 L792.7,294.9 L792.2,295.7 L791.8,296.5 L791.4,297.5 L791.1,298.5 L790.9,299.5 L790.7,300.6 L790.6,301.7 L790.5,302.9Z" fill="none" stroke-width="1.05"/>
<path d="M791.9,303.7 L791.9,304.8 L792.0,306.0 L792.2,307.2 L792.4,308.4 L792.7,309.6 L793.0,310.9 L793.4,312.1 L793.9,313.3 L794.4,314.6 L794.9,315.8 L795.5,317.0 L796.2,318.2 L796.9,319.4 L797.6,320.5 L798.4,321.6 L799.2,322.7 L800.1,323.7 L801.0,324.6 L801.9,325.6 L802.8,326.4 L803.7,327.2 L804.7,327.9 L805.6,328.6 L806.6,329.2 L807.6,329.7 L808.5,330.1 L809.5,330.5 L810.4,330.8 L811.3,331.0 L812.2,331.1 L813.1,331.2 L814.0,331.2 L814.8,331.0 L815.6,330.8 L816.3,330.6 L817.0,330.2 L817.7,329.8 L818.3,329.3 L818.8,328.7 L819.3,328.0 L819.8,327.3 L820.2,326.5 L820.5,325.7 L820.8,324.8 L821.0,323.8 L821.2,322.8 L821.3,321.8 L821.3,320.7 L821.3,319.6 L821.2,318.4 L821.0,317.2 L820.8,316.0 L820.5,314.8 L820.2,313.5 L819.8,312.3 L819.3,311.1 L818.8,309.8 L818.3,308.6 L817.7,307.4 L817.0,306.2 L816.3,305.0 L815.6,303.9 L814.8,302.8 L814.0,301.7 L813.1,300.7 L812.2,299.8 L811.3,298.8 L810.4,298.0 L809.5,297.2 L808.5,296.5 L807.6,295.8 L806.6,295.2 L805.6,294.7 L804.7,294.3 L803.7,293.9 L802.8,293.6 L801.9,293.4 L801.0,293.3 L800.1,293.2 L799.2,293.2 L798.4,293.4 L797.6,293.6 L796.9,293.8 L796.2,294.2 L795.5,294.6 L794.9,295.1 L794.4,295.7 L793.9,296.4 L793.4,297.1 L793.0,297.9 L792.7,298.7 L792.4,299.6 L792.2,300.6 L792.0,301.6 L791.9,302.6 L791.9,303.7Z" fill="none" stroke-width="1.05"/>
<path d="M796.0,306.1 L796.0,306.9 L796.1,307.7 L796.2,308.6 L796.4,309.5 L796.6,310.3 L796.8,311.2 L797.1,312.1 L797.4,313.0 L797.8,313.9 L798.2,314.8 L798.6,315.7 L799.1,316.5 L799.6,317.4 L800.1,318.2 L800.7,319.0 L801.3,319.7 L801.9,320.5 L802.5,321.2 L803.2,321.8 L803.9,322.4 L804.5,323.0 L805.2,323.5 L805.9,324.0 L806.6,324.4 L807.3,324.8 L808.0,325.1 L808.7,325.4 L809.3,325.6 L810.0,325.8 L810.7,325.9 L811.3,325.9 L811.9,325.9 L812.5,325.8 L813.1,325.6 L813.6,325.4 L814.1,325.2 L814.6,324.9 L815.0,324.5 L815.4,324.1 L815.8,323.6 L816.1,323.1 L816.4,322.5 L816.6,321.9 L816.8,321.3 L817.0,320.6 L817.1,319.9 L817.2,319.1 L817.2,318.3 L817.2,317.5 L817.1,316.7 L817.0,315.8 L816.8,314.9 L816.6,314.1 L816.4,313.2 L816.1,312.3 L815.8,311.4 L815.4,310.5 L815.0,309.6 L814.6,308.7 L814.1,307.9 L813.6,307.0 L813.1,306.2 L812.5,305.4 L811.9,304.7 L811.3,303.9 L810.7,303.2 L810.0,302.6 L809.3,302.0 L808.7,301.4 L808.0,300.9 L807.3,300.4 L806.6,300.0 L805.9,299.6 L805.2,299.3 L804.5,299.0 L803.9,298.8 L803.2,298.6 L802.5,298.5 L801.9,298.5 L801.3,298.5 L800.7,298.6 L800.1,298.8 L799.6,299.0 L799.1,299.2 L798.6,299.5 L798.2,299.9 L797.8,300.3 L797.4,300.8 L797.1,301.3 L796.8,301.9 L796.6,302.5 L796.4,303.1 L796.2,303.8 L796.1,304.5 L796.0,305.3 L796.0,306.1Z" fill="none" stroke-width="1.05"/>
<path d="M797.7,307.1 L797.7,307.7 L797.8,308.4 L797.9,309.2 L798.0,309.9 L798.2,310.6 L798.4,311.4 L798.6,312.1 L798.9,312.9 L799.2,313.6 L799.5,314.4 L799.9,315.1 L800.3,315.8 L800.7,316.5 L801.2,317.2 L801.7,317.9 L802.1,318.5 L802.7,319.2 L803.2,319.7 L803.7,320.3 L804.3,320.8 L804.9,321.3 L805.4,321.7 L806.0,322.1 L806.6,322.5 L807.2,322.8 L807.8,323.1 L808.3,323.3 L808.9,323.5 L809.5,323.6 L810.0,323.7 L810.5,323.7 L811.1,323.7 L811.5,323.6 L812.0,323.5 L812.5,323.3 L812.9,323.1 L813.3,322.9 L813.7,322.5 L814.0,322.2 L814.3,321.8 L814.6,321.4 L814.8,320.9 L815.0,320.4 L815.2,319.8 L815.3,319.3 L815.4,318.6 L815.5,318.0 L815.5,317.3 L815.5,316.7 L815.4,316.0 L815.3,315.2 L815.2,314.5 L815.0,313.8 L814.8,313.0 L814.6,312.3 L814.3,311.5 L814.0,310.8 L813.7,310.0 L813.3,309.3 L812.9,308.6 L812.5,307.9 L812.0,307.2 L811.5,306.5 L811.1,305.9 L810.5,305.2 L810.0,304.7 L809.5,304.1 L808.9,303.6 L808.3,303.1 L807.8,302.7 L807.2,302.3 L806.6,301.9 L806.0,301.6 L805.4,301.3 L804.9,301.1 L804.3,300.9 L803.7,300.8 L803.2,300.7 L802.7,300.7 L802.1,300.7 L801.7,300.8 L801.2,300.9 L800.7,301.1 L800.3,301.3 L799.9,301.5 L799.5,301.9 L799.2,302.2 L798.9,302.6 L798.6,303.0 L798.4,303.5 L798.2,304.0 L798.0,304.6 L797.9,305.1 L797.8,305.8 L797.7,306.4 L797.7,307.1Z" fill="none" stroke-width="1.05"/>
</g>
<g stroke="#000" stroke-width="0.95" fill="none">
<path d="M833.30,200.50 L855.64,213.40 L855.64,239.20 L833.30,252.10 L810.96,239.20 L810.96,213.40Z" fill="none"/>
<circle cx="833.3" cy="226.3" r="22.4"/>
<circle cx="833.3" cy="226.3" r="21.2"/>
<circle cx="833.3" cy="226.3" r="15.2"/>
<circle cx="833.3" cy="226.3" r="12.1"/>
<circle cx="833.3" cy="226.3" r="1.1" fill="#000"/>
<line x1="784" y1="226.3" x2="864.4" y2="226.3"/>
<line x1="833.3" y1="194.5" x2="833.3" y2="257.4"/>
</g>
<g stroke="#000" stroke-width="1.0" fill="none">
<line x1="80.5" y1="80.7" x2="80.5" y2="132.5"/>
<line x1="480.3" y1="80.3" x2="480.3" y2="114"/>
<line x1="80.5" y1="92.8" x2="264.9" y2="92.8"/>
<line x1="312.9" y1="92.8" x2="480.3" y2="92.8"/>
<line x1="30.8" y1="124.6" x2="79.7" y2="124.6"/>
<line x1="30.8" y1="158.6" x2="79.7" y2="158.6"/>
<line x1="42.5" y1="100.5" x2="42.5" y2="124.6"/>
<line x1="42.5" y1="158.6" x2="42.5" y2="183"/>
<line x1="480.5" y1="118.95" x2="576.7" y2="118.95"/>
<line x1="480.5" y1="164.25" x2="576.7" y2="164.25"/>
<line x1="564.1" y1="95" x2="564.1" y2="118.95"/>
<line x1="564.1" y1="164.25" x2="564.1" y2="188.3"/>
<circle cx="27.5" cy="141.8" r="5.5" stroke-width="1.1"/>
<line x1="24.2" y1="149.7" x2="30.8" y2="134.2" stroke-width="1.1"/>
</g>
<g fill="#000" stroke="none">
<path d="M80.5,92.8 L93.00,94.90 L93.00,90.70Z" fill="#000"/>
<path d="M480.3,92.8 L467.80,90.70 L467.80,94.90Z" fill="#000"/>
<path d="M42.5,124.6 L44.60,112.10 L40.40,112.10Z" fill="#000"/>
<path d="M42.5,158.6 L40.40,171.10 L44.60,171.10Z" fill="#000"/>
<path d="M564.1,118.95 L566.20,106.45 L562.00,106.45Z" fill="#000"/>
<path d="M564.1,164.25 L562.00,176.75 L566.20,176.75Z" fill="#000"/>
</g>
<g fill="#000" stroke="#000" stroke-width="1.0" text-rendering="geometricPrecision" font-family="Liberation Sans, sans-serif">
<text transform="translate(58,17.2) scale(0.1)" font-size="103.0" text-anchor="middle" stroke-width="0">1</text>
<text transform="translate(247.2,17.2) scale(0.1)" font-size="103.0" text-anchor="middle" stroke-width="0">2</text>
<text transform="translate(436.3,17.2) scale(0.1)" font-size="103.0" text-anchor="middle" stroke-width="0">3</text>
<text transform="translate(625.4,17.2) scale(0.1)" font-size="103.0" text-anchor="middle" stroke-width="0">4</text>
<text transform="translate(814.5,17.2) scale(0.1)" font-size="103.0" text-anchor="middle" stroke-width="0">5</text>
<text transform="translate(1003.6,17.2) scale(0.1)" font-size="103.0" text-anchor="middle" stroke-width="0">6</text>
<text transform="translate(58,754.2) scale(0.1)" font-size="103.0" text-anchor="middle" stroke-width="0">1</text>
<text transform="translate(247.2,754.2) scale(0.1)" font-size="103.0" text-anchor="middle" stroke-width="0">2</text>
<text transform="translate(368,563) scale(0.1)" font-size="78.0" textLength="1048.0" lengthAdjust="spacingAndGlyphs">UNLESS OTHERWISE SPECIFIED:</text>
<text transform="translate(368,571.8) scale(0.1)" font-size="78.0" textLength="1140.0" lengthAdjust="spacingAndGlyphs">DIMENSIONS ARE IN MILLIMETERS</text>
<text transform="translate(368,582) scale(0.1)" font-size="78.0" textLength="571.0" lengthAdjust="spacingAndGlyphs">SURFACE FINISH:</text>
<text transform="translate(368,590.9) scale(0.1)" font-size="78.0" textLength="480.0" lengthAdjust="spacingAndGlyphs">TOLERANCES:</text>
<text transform="translate(374,600.7) scale(0.1)" font-size="78.0" textLength="268.0" lengthAdjust="spacingAndGlyphs">LINEAR:</text>
<text transform="translate(374,609.9) scale(0.1)" font-size="78.0" textLength="381.0" lengthAdjust="spacingAndGlyphs">ANGULAR:</text>
<text transform="translate(495.9,562.7) scale(0.1)" font-size="78.0" textLength="223.0" lengthAdjust="spacingAndGlyphs">FINISH:</text>
<text transform="translate(673.3,562.8) scale(0.1)" font-size="78.0" textLength="360.0" lengthAdjust="spacingAndGlyphs">DEBUR AND</text>
<text transform="translate(673.3,571.8) scale(0.1)" font-size="78.0" textLength="472.0" lengthAdjust="spacingAndGlyphs">BREAK SHARP</text>
<text transform="translate(673.3,581.6) scale(0.1)" font-size="78.0" textLength="230.0" lengthAdjust="spacingAndGlyphs">EDGES</text>
<text transform="translate(791,567.8) scale(0.1)" font-size="78.0" textLength="923.0" lengthAdjust="spacingAndGlyphs">DO NOT SCALE DRAWING</text>
<text transform="translate(945.4,568.8) scale(0.1)" font-size="78.0" textLength="316.0" lengthAdjust="spacingAndGlyphs">REVISION</text>
<text transform="translate(743.7,629.8) scale(0.1)" font-size="78.0" textLength="172.0" lengthAdjust="spacingAndGlyphs">TITLE:</text>
<text transform="translate(430.5,628.6) scale(0.1)" font-size="78.0" text-anchor="middle">NAME</text>
<text transform="translate(478.8,628.8) scale(0.1)" font-size="78.0" textLength="399.0" lengthAdjust="spacingAndGlyphs">SIGNATURE</text>
<text transform="translate(544.3,627.8) scale(0.1)" font-size="78.0" textLength="181.0" lengthAdjust="spacingAndGlyphs">DATE</text>
<text transform="translate(366.7,643.6) scale(0.1)" font-size="78.0" textLength="275.0" lengthAdjust="spacingAndGlyphs">DRAWN</text>
<text transform="translate(366.9,659.7) scale(0.1)" font-size="78.0" textLength="228.0" lengthAdjust="spacingAndGlyphs">CHK'D</text>
<text transform="translate(366.9,675.8) scale(0.1)" font-size="78.0" textLength="266.0" lengthAdjust="spacingAndGlyphs">APPV'D</text>
<text transform="translate(367.8,691.6) scale(0.1)" font-size="78.0" textLength="164.0" lengthAdjust="spacingAndGlyphs">MFG</text>
<text transform="translate(368.1,708.5) scale(0.1)" font-size="78.0" textLength="137.0" lengthAdjust="spacingAndGlyphs">Q.A</text>
<text transform="translate(576,705.8) scale(0.1)" font-size="78.0" textLength="367.0" lengthAdjust="spacingAndGlyphs">MATERIAL:</text>
<text transform="translate(576,755.6) scale(0.1)" font-size="78.0" textLength="290.0" lengthAdjust="spacingAndGlyphs">WEIGHT:</text>
<text transform="translate(743.9,710.8) scale(0.1)" font-size="78.0" textLength="351.0" lengthAdjust="spacingAndGlyphs">DWG NO.</text>
<text transform="translate(743.9,755.5) scale(0.1)" font-size="78.0" textLength="339.0" lengthAdjust="spacingAndGlyphs">SCALE:2:1</text>
<text transform="translate(911.9,755.8) scale(0.1)" font-size="78.0" textLength="423.0" lengthAdjust="spacingAndGlyphs">SHEET 1 OF 1</text>
<text transform="translate(815.7,728.4) scale(0.1)" font-size="315.0" textLength="1568.0" lengthAdjust="spacingAndGlyphs" stroke="#fff" stroke-width="5">The Nozzle</text>
<text transform="translate(1039,717.5) scale(0.1)" font-size="135.0" textLength="184.0" lengthAdjust="spacingAndGlyphs" stroke="#fff" stroke-width="2">A4</text>
<text transform="translate(269.8,98.8) scale(0.1)" font-size="163.0" textLength="382.0" lengthAdjust="spacingAndGlyphs" stroke-width="0">52.86</text>
<text transform="translate(37.1,147.7) scale(0.1)" font-size="160.0" textLength="296.0" lengthAdjust="spacingAndGlyphs" stroke-width="0">4.50</text>
<text transform="translate(549.5,147.7) scale(0.1)" font-size="160.0" textLength="294.0" lengthAdjust="spacingAndGlyphs" stroke-width="0">5.99</text>
</g>
</svg>
</body></html>
